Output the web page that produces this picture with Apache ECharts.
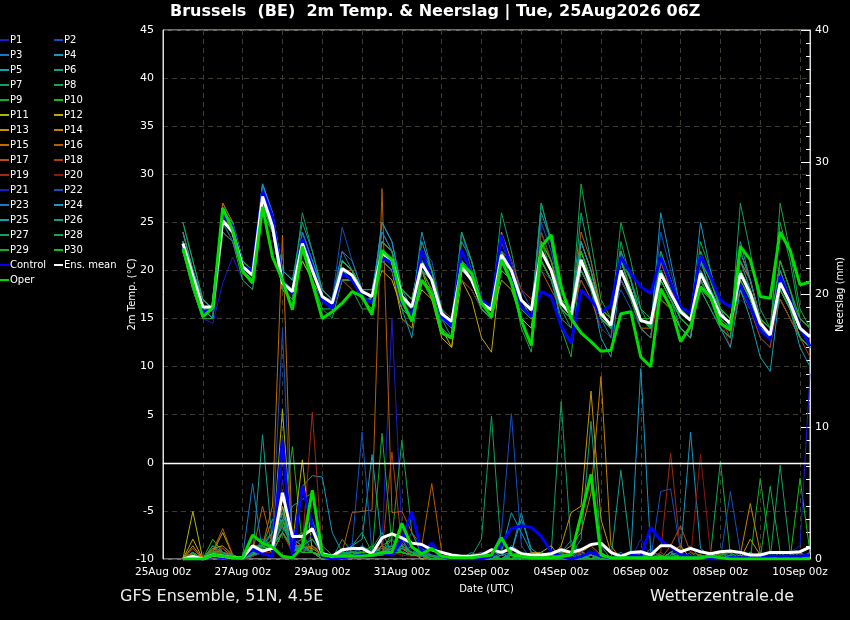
<!DOCTYPE html>
<html><head><meta charset="utf-8">
<script src="https://cdn.jsdelivr.net/npm/echarts/dist/echarts.min.js"></script>
<style>html,body{margin:0;padding:0;background:#000}#c{width:850px;height:620px}</style>
</head><body><div id="c"></div>
<script>
// forecast hours after 25Aug2026 00z
const hours = [12,18,24,30,36,42,48,54,60,66,72,78,84,90,96,102,108,114,120,126,132,138,144,150,156,162,168,174,180,186,192,198,204,210,216,222,228,234,240,246,252,258,264,270,276,282,288,294,300,306,312,318,324,330,336,342,348,354,360,366,372,378,384,390];
const xTickLabels = ['25Aug 00z','27Aug 00z','29Aug 00z','31Aug 00z','02Sep 00z','04Sep 00z','06Sep 00z','08Sep 00z','10Sep 00z'];

const memberNames = ['P1','P2','P3','P4','P5','P6','P7','P8','P9','P10','P11','P12','P13','P14','P15','P16','P17','P18','P19','P20','P21','P22','P23','P24','P25','P26','P27','P28','P29','P30'];
const memberColors = ['#1a1ad0','#1550c0','#1a78c0','#1498c0','#10a0b0','#10a088','#10a060','#12a845','#10b025','#10c010','#b4b400','#c0a800','#c49400','#c48000','#c06c00','#b85c00','#b84c10','#b03c10','#a02814','#901414','#1a1ad0','#1550c0','#1a78c0','#1498c0','#10a0b0','#10a088','#10a060','#12a845','#10b025','#10c010'];

// 2m temperature (°C)
const tMean = [22.8,19.4,16.2,16.2, 25.2,24.0,20.4,19.5, 27.7,24.6,18.7,17.8, 22.8,20.0,17.3,16.6, 20.2,19.5,17.8,17.3, 21.8,21.1,17.3,16.2, 20.7,19.0,15.5,14.7, 20.4,19.0,16.6,15.9, 21.6,20.0,16.9,15.9, 22.0,20.0,16.6,15.4, 21.1,18.5,15.5,14.3, 20.0,17.6,14.8,14.5, 19.7,17.6,15.7,14.8, 19.7,17.6,15.4,14.5, 19.7,17.6,14.5,13.3, 18.7,16.6,14.0,13.1];
const tControl = [22.5,19.0,15.7,15.9, 25.8,24.6,20.4,20.0, 28.2,25.6,19.0,17.6, 23.3,20.4,16.9,16.1, 19.7,19.0,17.3,16.6, 21.4,20.7,16.6,15.4, 22.1,19.0,15.2,14.2, 22.1,19.7,16.9,16.2, 23.7,20.0,16.2,15.2, 17.8,17.3,14.2,12.4, 18.0,16.9,15.6,16.4, 21.4,19.7,18.3,17.6, 21.4,18.7,16.2,15.5, 21.6,19.4,16.9,16.2, 18.5,16.2,13.8,12.8, 19.4,16.9,14.2,12.1];
const tOper = [22.3,18.7,15.2,16.1, 26.5,24.2,19.9,18.7, 26.6,21.4,19.0,15.9, 22.5,18.7,15.0,15.7, 16.6,17.8,17.3,15.4, 22.1,21.1,16.9,14.7, 19.0,17.6,13.5,13.0, 20.7,19.7,16.6,15.2, 21.1,18.7,14.8,12.2, 22.5,23.7,18.3,15.0, 13.5,12.6,11.6,11.7, 15.5,15.7,11.0,10.0, 18.1,16.2,12.6,14.2, 18.3,17.3,14.5,13.8, 22.5,21.1,17.3,17.1, 24.0,22.1,18.5,18.8];

const tP1 = [22,18,15,14.5, 18.7,21.4,19,18, 27,24,18,17, 22,19,16,16, 21,20,18,17, 22,21,17,16, 19,18,14,13, 22,20,17,16, 20,19,16,15, 24,21,17,16, 19,17,14,13, 22,19,16,15, 18,16,14,13, 21,19,16,15, 17,16,13,12, 20,17,14,12];
const tP2 = [23,19,16,16, 25,24,20,20, 28,25,19,18, 24,21,18,17, 19,19,17,17, 21,20,17,16, 23,20,16,15, 19,18,16,15, 22,21,18,16, 20,19,16,15, 23,20,16,15, 18,16,14,13, 21,18,16,15, 19,17,15,14, 22,19,15,14, 17,15,13,12];
const tP3 = [23,20,17,16, 26,24,21,20, 29,25,19,18, 22,20,17,17, 22,20,18,18, 24,22,18,17, 20,18,15,14, 21,20,17,16, 23,20,17,16, 21,19,16,15, 20,18,15,14, 21,18,15,14, 18,17,15,14, 20,18,16,15, 19,17,14,13, 18,16,13,12];
const tP4 = [24,20,16,15, 26,25,21,20, 29,26,20,19, 23,21,18,17, 21,20,18,17, 25,23,18,17, 21,20,15,14, 23,21,17,16, 22,20,16,15, 27,23,17,15, 22,19,15,14, 19,17,15,14, 20,18,16,15, 25,20,16,15, 18,16,14,13, 20,17,14,13];
const tP5 = [22,19,16,16, 24,23,20,19, 27,24,18,17, 23,20,17,16, 21,20,18,18, 22,21,18,17, 22,20,16,15, 20,19,16,15, 20,19,16,15, 23,21,17,16, 21,18,13,11, 20,17,14,13, 21,19,16,15, 18,16,14,13, 20,18,15,14, 19,17,15,14];
const tP6 = [23,19,16,15, 25,24,21,20, 28,26,20,19, 25,22,18,17, 20,19,17,16, 21,20,17,16, 20,18,15,14, 24,21,17,16, 21,20,17,16, 22,20,16,15, 26,21,16,14, 20,17,15,14, 19,17,15,14, 21,18,15,14, 23,19,15,14, 17,15,13,12];
const tP7 = [25,21,17,16, 25,24,20,19, 28,25,19,18, 23,21,18,17, 20,19,17,17, 23,22,18,17, 20,19,16,15, 21,20,17,16, 26,22,17,16, 21,19,16,15, 20,18,15,14, 23,19,16,15, 18,16,14,13, 20,18,16,15, 19,17,14,13, 21,18,14,12];
const tP8 = [22,18,15,15, 26,25,21,20, 27,24,18,17, 21,19,16,15, 19,18,16,16, 22,21,17,16, 22,20,16,15, 19,18,16,15, 22,20,17,16, 22,20,16,15, 29,23,17,15, 21,18,15,14, 22,19,16,15, 18,16,14,13, 20,18,15,14, 25,21,15,14];
const tP9 = [23,19,16,16, 24,23,20,19, 28,25,19,18, 22,20,17,16, 21,20,18,17, 21,20,16,15, 19,17,14,13, 22,20,16,15, 20,19,16,15, 23,20,14,11, 21,19,16,15, 19,17,14,13, 20,18,15,14, 23,20,16,15, 21,19,15,14, 18,16,14,13];
const tP10 = [22,19,16,16, 25,23,19,18, 26,24,19,18, 24,21,18,17, 20,19,17,17, 22,21,17,16, 21,19,15,14, 20,19,17,16, 21,19,16,15, 24,21,17,15, 22,19,16,15, 20,18,15,15, 19,17,15,14, 22,19,16,14, 18,16,14,13, 19,17,15,14];
const tP11 = [23,20,16,16, 25,24,21,20, 27,24,19,18, 21,19,17,16, 19,19,18,17, 20,19,16,15, 18,17,14,12, 21,19,16,15, 19,18,15,14, 22,20,16,15, 20,18,15,14, 21,18,15,14, 17,16,14,13, 19,17,15,14, 20,18,14,13, 18,16,14,13];
const tP12 = [22,19,16,15, 25,24,20,19, 28,25,19,18, 22,20,17,16, 20,19,17,16, 21,20,15,14, 20,17,13,12, 19,17,13,11.5, 21,19,15,14, 21,19,16,15, 23,20,16,14, 19,17,14,13, 21,18,16,15, 20,18,15,14, 22,19,15,14, 19,17,14,13];
const tP13 = [24,20,17,16, 26,25,21,20, 28,25,19,18, 23,20,17,16, 21,20,18,17, 23,22,17,16, 21,19,15,14, 20,19,16,15, 24,21,17,16, 21,19,16,15, 22,19,16,14, 20,18,15,14, 20,18,16,15, 20,18,15,14, 19,17,14,13, 18,16,13,12];
const tP14 = [23,19,16,16, 27,25,20,19, 27,24,18,17, 22,20,17,17, 20,19,17,17, 22,21,18,17, 22,20,16,15, 21,20,17,16, 22,20,17,15, 23,21,17,16, 20,18,15,14, 22,19,15,14, 19,17,15,14, 21,19,16,15, 20,18,15,14, 17,15,13,12];
const tP15 = [22,18,15,15, 24,23,20,19, 28,25,19,18, 24,21,18,17, 21,20,18,17, 21,20,16,15, 19,18,15,14, 22,20,17,16, 21,19,16,15, 22,20,16,15, 21,19,16,15, 19,17,14,14, 20,18,16,15, 19,17,15,14, 21,19,15,13, 20,17,14,13];
const tP16 = [23,19,16,15, 27,25,21,20, 28,25,19,18, 22,20,17,16, 19,19,17,16, 23,22,17,16, 20,18,15,14, 20,19,16,15, 21,20,17,16, 20,18,16,15, 24,21,16,15, 21,18,15,14, 19,17,15,14, 22,19,16,15, 19,17,14,13, 19,17,14,13];
const tP17 = [22,19,16,16, 25,24,20,19, 27,25,19,18, 23,20,17,16, 21,20,18,17, 22,21,17,16, 21,19,15,14, 21,19,16,15, 23,21,17,16, 23,21,17,15, 19,17,14,13, 20,18,15,14, 21,19,16,15, 18,17,15,14, 20,18,15,14, 21,18,15,14];
const tP18 = [23,19,15,15, 24,23,20,19, 28,25,19,18, 22,20,17,16, 20,20,18,17, 22,21,18,17, 21,20,16,15, 20,19,17,16, 22,21,18,17, 21,19,16,15, 22,19,15,14, 19,17,14,13, 21,18,15,14, 19,17,15,13, 18,16,13,12, 18,16,13,11];
const tP19 = [24,20,16,15, 25,24,21,20, 27,24,18,17, 23,20,17,16, 19,18,17,17, 21,20,17,16, 20,18,14,13, 21,20,17,16, 20,19,16,15, 24,21,16,15, 21,18,15,14, 20,18,15,14, 20,18,16,15, 21,18,15,14, 19,17,14,13, 17,15,13,12];
const tP20 = [22,19,16,16, 26,24,20,19, 28,25,19,18, 22,20,17,17, 21,20,18,17, 22,21,17,16, 22,20,16,14, 19,18,16,15, 21,20,17,15, 22,20,17,16, 20,18,15,14, 21,18,14,13, 18,17,15,14, 20,18,15,12, 21,18,15,14, 19,17,14,13];
const tP21 = [23,20,16,15, 25,24,21,20, 29,26,19,18, 24,21,18,17, 20,19,17,16, 21,20,17,16, 21,20,16,15, 22,20,17,16, 23,21,17,16, 20,19,16,15, 21,18,14,13, 20,17,14,13, 22,19,16,15, 20,18,15,14, 19,17,14,13, 20,17,14,12];
const tP22 = [23,19,16,16, 25,23,20,19, 28,25,19,18, 22,20,18,17, 24.5,21,18,17, 21,20,17,16, 22,21,16,15, 24,20,16,15, 22,20,17,16, 25,22,17,16, 22,19,15,14, 19,17,15,14, 24,20,16,15, 22,19,16,15, 20,18,14,13, 19,17,14,13];
const tP23 = [22,19,16,15, 24,23,20,19, 27,24,18,17, 24,21,18,17, 22,21,18,17, 24,22,17,16, 20,19,15,14, 20,19,16,15, 21,19,16,15, 22,20,16,15, 21,18,15,13, 22,19,15,14, 20,18,15,14, 19,17,15,14, 22,19,15,14, 18,16,13,12];
const tP24 = [23,20,17,16, 26,25,21,20, 29,26,20,19, 22,20,17,16, 21,20,18,17, 25,23,18,16, 24,20,14,13, 21,20,17,16, 21,20,17,16, 26,23,18,16, 23,20,15,14, 21,18,15,14, 26,21,16,15, 20,18,16,14, 21,18,14,13, 20,17,14,12];
const tP25 = [24,20,16,15, 26,24,21,20, 28,25,19,18, 23,21,18,17, 20,19,17,16, 22,21,16,13, 20,19,15,14, 22,20,16,15, 20,19,16,15, 21,19,15,14, 21,18,15,14, 20,18,15,14, 19,17,14,13, 21,18,14,12, 18,15,11,9.5, 18,16,12,10];
const tP26 = [23,19,16,16, 25,24,20,19, 28,26,20,19, 22,20,17,16, 21,20,18,17, 22,21,18,17, 21,19,15,14, 21,19,16,15, 21,20,17,16, 22,20,16,15, 20,18,15,14, 21,19,15,14, 19,17,15,14, 20,18,15,14, 20,17,15,14, 19,17,14,13];
const tP27 = [25,21,17,16, 26,25,21,20, 27,25,19,18, 26,22,18,17, 21,20,17,16, 22,21,17,16, 23,20,15,13, 21,19,16,15, 22,20,17,15, 27,23,17,15, 22,19,15,14, 22,19,15,14, 20,18,15,14, 19,17,14,13, 27,22,16,14, 21,18,14,13];
const tP28 = [22,18,15,15, 25,24,21,20, 28,25,19,18, 23,20,17,16, 20,19,17,17, 23,22,18,17, 21,19,15,14, 24,21,17,15, 22,19,14,11.5, 21,19,16,14, 22,19,16,15, 25,21,16,14, 21,19,16,15, 20,18,15,14, 19,17,14,13, 27,22,16,14];
const tP29 = [23,19,16,16, 25,24,20,19, 27,24,18,17, 22,19,16,16, 19,19,17,17, 22,21,17,16, 20,18,15,14, 20,19,16,15, 21,19,16,15, 22,20,16,15, 21,18,15,14, 20,17,14,13, 22,19,16,15, 21,19,16,15, 20,18,15,14, 21,18,15,14];
const tP30 = [22,19,16,16, 26,24,20,19, 28,25,19,18, 23,20,17,16, 21,20,18,17, 21,20,17,16, 22,20,16,14, 22,20,17,16, 20,19,16,15, 23,21,17,16, 22,19,15,14, 21,18,15,14, 19,17,15,14, 22,19,16,15, 19,17,14,13, 18,16,13,12];

// Neerslag (mm)
const rMean = [0,0.2,0,0.3, 0.2,0.1,0.1,1.0, 0.6,0.8,5.0,1.7, 1.7,2.3,0.4,0.2, 0.7,0.8,0.8,0.4, 1.6,1.9,1.6,1.2, 1.1,0.7,0.5,0.3, 0.2,0.2,0.3,0.7, 0.5,0.8,0.4,0.3, 0.3,0.4,0.7,0.5, 0.7,1.1,1.2,0.5, 0.2,0.5,0.55,0.3, 1.0,1.0,0.55,0.8, 0.55,0.4,0.55,0.6, 0.5,0.3,0.3,0.5, 0.5,0.5,0.55,0.9];
const rControl = [0,0,0,0.2, 0.1,0,0.1,0.7, 0.4,0.2,9.0,0.3, 5.5,2.5,0.2,0, 0.1,0.2,0.3,0.4, 0.5,0.3,1.4,3.6, 0.4,1.2,0.2,0, 0,0,0,0.2, 1.2,2.3,2.5,2.4, 1.7,0.55,0.2,0, 0.2,0.5,0.2,0.1, 0.3,0.3,0.2,2.4, 1.4,0.9,0.3,0.2, 0.1,0,0,0.1, 0.1,0.1,0.1,0.2, 0.2,0.2,0.2,0.3];
const rOper = [0,0,0,0.3, 0.2,0.1,0.1,1.8, 1.2,0.9,0.2,0.1, 0.9,5.2,0.3,0.2, 0.2,0.2,0.2,0.3, 0.5,0.5,2.7,0.9, 0.4,0.8,0.2,0.1, 0.1,0.1,0.2,0.3, 1.6,0.3,0.2,0.1, 0.1,0.1,0.2,0.3, 3.3,6.4,0.3,0.1, 0.1,0.1,0.1,0.1, 0.1,0.1,0.1,0.1, 0.1,0.2,0.1,0, 0,0,0,0, 0,0,0,0];

const rP1 = [0,0.3,0,0.5, 0.2,0,0.1,0.4, 1.5,0.3,6,1, 0.5,2,0.3,0, 0.5,1.2,0.3,0.2, 1,18.2,2,0.5, 0.3,0,0,0, 0,0,0.2,0, 0,0.5,0,0, 0,0,0.3,0, 0,0.8,0.2,0, 0,0,1.5,0.3, 0,0.2,0,0, 0,0.5,0,0, 0,0,0,0.3, 0,0,0.2,0.5];
const rP2 = [0,0,0,0.2, 0.5,0.2,0,0.3, 0.8,2,17.3,0.5, 1,0.5,0,0.2, 0.3,0.5,1,0.2, 0.5,1,0.8,2, 0.5,0.2,0,0, 0,0,0.5,0.3, 2,11,1,0, 0,0.3,0,0, 0,0,0.5,0, 0,0.5,0.3,0, 5.1,5.3,0.5,0, 0,0.3,0,0.2, 0,0,0.5,0, 0,0.3,0,0];
const rP3 = [0,0.2,0,0.3, 0.4,0.1,0,0.2, 0.6,1,4,1.2, 1.5,3,0.5,0.2, 0.4,0.6,0.3,1, 0.5,0.8,1.2,0.5, 0.8,0.3,0.2,0, 0,0.2,0,0, 0.3,1,0.5,0, 0,0,0.5,1.4, 0.3,0,0,0, 0.2,0,0,0.8, 0,0,0.4,1, 0,0.5,0,0, 0.3,0,0,0, 0,0.5,0,0.3];
const rP4 = [0,0.2,0,0.3, 0.1,0,0,0.2, 0.5,1,3,1, 5.5,6.3,6.2,2, 0.5,0.3,1,0.5, 0.8,1,0.5,0.3, 0.5,0,0.2,0, 0,0,0,0.3, 0.5,3.5,2,0.5, 0,0,0.3,0, 0,0.5,0,0, 0,0.3,14.4,0.5, 0,0.3,0.5,9.6, 0.8,0.2,0,0, 0,0.5,0,0, 0.5,0,0,0];
const rP5 = [0,0.5,0,0.4, 0.3,0,0.1,0.3, 1,0.5,3.5,1.5, 1,1.5,0.5,0.3, 0.2,1,1.5,7.9, 1,0.5,1.5,0.3, 0.5,0.2,0,0, 0,0.3,0,0, 0,0.5,3,0.8, 0.2,0,0,0.5, 0,0,0.3,0, 0.2,0,0.5,0, 0,0,0.3,0, 0.3,0,0.5,0.2, 0,0.5,0,0, 0,0.3,0,0.5];
const rP6 = [0,0.3,0,0.6, 0.2,0,0,0.2, 9.4,1,2,0.8, 0.5,1,0.3,0, 0.3,0.5,0.5,0.2, 0.5,1.5,0.5,1, 0.3,0,0,0, 0,0.2,0,0, 0.3,0.5,0,0, 0,0.5,0,0.3, 1.5,10.4,1,0, 6.7,0.5,0.3,0, 0,0.5,0,0, 0,0.3,0,0, 0,0,0.3,0, 0.2,0,0,0];
const rP7 = [0,0.2,0,0.8, 0.5,0.3,0,0.3, 1,3,2.5,1, 0.5,0.5,0.2,0, 1.5,0.5,0.3,0.8, 2,0.5,1,0.5, 0.5,0.3,0,0, 0,0.2,1.5,10.8, 0.5,0,0.5,0, 0.3,0.5,11.9,1, 0.5,0.3,0,0, 0.3,0,0.5,0, 0,0.5,0.3,0, 0.3,0,0,0.2, 0,0.3,0,0.5, 0,0,0.3,0];
const rP8 = [0,0.5,0,1, 0.3,0.2,0.1,0.5, 1.2,2,3,0.5, 1,0.5,0.3,0.2, 0.5,1,2,0.5, 1,1.5,9,2, 0.3,0,0,0, 0,0,0.3,0, 0,0.3,0.5,0, 0,0,0.3,0.5, 0.3,0,0.3,0, 0,0.5,0,0, 0.3,0,0,0.5, 0,0.3,7.4,0.3, 0,0,0.5,0, 0.3,0,0,0.3];
const rP9 = [0,0.3,0,0.5, 0.5,0,0.1,0.3, 0.8,1,2.5,8.5, 1,0.5,0.3,0, 0.3,0.5,0.5,0.2, 9.5,1,0.5,0.3, 0.2,0,0,0, 0,0.3,0,0, 0.5,0,0,0.3, 0,0.5,0,0, 0,0,0.5,0, 0,0.3,0,0.5, 0.3,0,0,0, 0,0.2,0,0.3, 0.5,0,6.1,0.5, 0,0.3,0,0];
const rP10 = [0,0.4,0,1.5, 0.5,0.2,0,0.2, 1,0.5,3,1.5, 2,0.5,0.2,0, 0.2,0.3,0.5,1, 0.5,2,1,0.5, 0.3,0.2,0,0, 0,0,0.2,0.3, 0,0.5,0,0, 0.5,0,0,0.3, 0,0.3,0,0, 0.2,0,0.3,0, 0,0.5,0,0, 0.2,0,0,0.5, 0,0.3,0,0, 0.5,0,6.1,0.5];
const rP11 = [0,3.6,0,0.8, 1,0.3,0,0.5, 0.5,1,11.3,1, 7.5,0.5,0.2,0, 0.3,0.5,0.3,0.2, 0.5,1,0.5,0.3, 0.2,0,0,0, 0,0.3,0,0, 0,0,0.5,0, 0,0.3,0,0, 0.5,0,0,0, 0,0.3,0,0, 0.2,0,0,0.3, 0,0,0.5,0, 0,0.3,0,0, 0,0,0.3,0];
const rP12 = [0,1.5,0,0.5, 2,0.3,0,0.3, 0.5,0.8,4,1, 1,0.5,0,0, 0.5,0.3,0.5,0.2, 0.3,0.5,0.8,0.5, 0,0,0,0.2, 0,0,0.3,0, 0,0.5,0,0.3, 0.5,1,0,0, 0.5,0.3,0,0, 0,0,0.3,0, 0,0.3,0,0, 0.3,0,0,0, 0,0,0.3,0, 0.3,0,0,0];
const rP13 = [0,1,0,0.3, 0.5,0,0.2,0.3, 0.5,1,2,0.5, 1,0.8,0.3,0, 0.3,0.5,0.5,0.3, 0.5,0.8,1,0.5, 0.3,0,0,0, 0,0,0,0.3, 0,0.3,0,0.5, 0.5,0,1,3.5, 4,12.7,3,0.5, 0,0.3,0,0, 0,0.5,1,0, 0,0.3,0,0, 0,1.5,0.3,0, 0,0,0.5,0];
const rP14 = [0,0.5,0,0.3, 0.8,0.2,0,0.3, 1,0.5,3,1, 0.8,1,0.3,0, 0.3,0.5,0.3,0.2, 1,0.5,0.8,0.3, 0.2,0,0,0, 0,0,0.3,0, 0,0,0.5,0, 0,0.3,0.5,1, 2,5,13.8,1, 0,0.5,0.3,0, 0,0.3,0,0, 0.3,0,0,0, 0.3,4.2,0.5,0, 0,0.3,0,0];
const rP15 = [0,0.5,0,0.8, 0.3,0,0.2,0.5, 1,4,24.5,1, 0.5,0.5,0.3,0, 0.3,0.5,0.3,0.2, 0.5,1,0.5,0.3, 0.3,0,0,0, 0,0.3,0,0, 0,0,0.3,0, 0.3,0,0.5,0.5, 0.5,1,0.3,0, 0,0.3,0,0.5, 0,0.5,0,0, 0,0,0.3,0, 0,0.3,0,0, 0,0,0.3,0.3];
const rP16 = [0,0.8,0,0.6, 2.3,0.3,0,0.5, 4,1,2,0.8, 1,0.5,0.3,0, 0.5,3.5,3.6,3.7, 28,3.5,3.6,2, 1,5.7,0.5,0, 0,0.3,0,0, 0,0.3,0,0, 0,0.5,0.3,0, 0.5,0,0,0, 0,0.3,0,0, 0.3,0,0,0, 0,0.5,0.3,0, 0,0,0,0.3, 0,0.3,0,0];
const rP17 = [0,0.5,0,0.3, 1,0.3,0,0.2, 0.5,0.8,3,1.5, 0.5,1,0.5,0, 0.3,0.3,0.5,0.5, 1,0.5,0.5,0.3, 0.5,0.3,0,0, 0,0.2,0,0.3, 0,0.3,0,0, 0.3,0,0.3,0, 0,0.5,0,0, 0,0,0.5,0.3, 0,1,2.5,0.5, 0.3,0,0.5,0, 0,0.3,0,0, 0,0.5,0,0];
const rP18 = [0,0.3,0,0.5, 0.5,0,0.1,0.3, 0.5,1,2,1, 1.5,0.5,0.3,0, 0.5,0.3,0.3,0.2, 0.5,8.1,1,0.3, 0.3,0,0,0, 0,0.3,0.5,0, 0,0,0.5,0, 0,0.3,0,0, 0.3,0,0,0, 0,0,0.3,0, 0.5,0,0.3,0, 0,0.5,0,0, 0.3,0,0,0, 0,0.3,0.5,0];
const rP19 = [0,0.3,0,0.5, 0.8,0,0,0.3, 0.5,1,2.5,1, 1,11.1,0.5,0, 0.3,0.5,0.3,0.2, 0.5,0.3,0.5,0.3, 0.3,0,0,0, 0,0,0.3,0, 0,0.5,0,0, 0,0.3,0,0, 0,0,0.3,0, 0.3,0,0,0, 0.5,8,0.5,0, 0,0.3,0,0, 0,0,0.3,0, 0,0,0,0.5];
const rP20 = [0,0.3,0,0.3, 0.5,0,0,0.2, 0.5,0.5,2,0.5, 0.8,0.5,0.3,0, 0.3,0.3,0.5,0.3, 0.5,0.5,0.3,0.2, 0.3,0,0,0, 0,0,0.3,0.5, 0,0.3,0,0, 0,0,0.3,0, 0.3,0,0,0, 0,0.3,0,0, 0,0,0.5,0, 7.9,0.5,0,0, 0,0.3,0,0, 0,0,0.3,0];
const rP21 = [0,0.2,0,0.3, 0.3,0,0,0.5, 1,0.5,8,1, 0.5,2,0.5,0, 0.3,0.5,0.3,0.5, 0.5,1,1.5,0.8, 0.3,0,0,0, 0,0,0.3,0, 0,0.5,0,0, 0,0.3,0,0, 0.5,0,0,0, 0,0,0.3,0, 0.3,0,0.5,0, 0,0.3,0,0.5, 0,0.3,0,0.5, 0,0.5,1,14];
const rP22 = [0,0.2,0,0.2, 0.3,0,0,0.3, 0.5,1,3,0.8, 0.5,0.5,0.3,0, 0.5,1,9.6,0.5, 0.3,0.5,0.5,0.3, 0.2,0,0,0, 0,0,0.5,0, 0,0,0.3,0, 0,0.5,0,0, 0,0.3,0,0, 0.3,0,0,0.5, 0,0.3,0,0, 0,0.5,0,5.1, 0.5,0,0,0, 0,0.3,0,0];
const rP23 = [0,0.3,0,0.4, 0.3,0,0.2,5.7, 0.5,1,2.5,1, 0.8,0.5,0.3,0, 0.3,0.5,0.3,0.2, 0.3,0.8,1,0.5, 0.5,0.3,0,0, 0,0.3,0,0, 0.5,0,0,0, 0,0,0.5,0, 0,0.5,0,0, 0,0,0.3,0, 0,0.5,0,0, 0.3,0,0,0, 0,0,0.5,0, 0,0.3,0,0];
const rP24 = [0,0.2,0,0.3, 0.2,0,0,0.3, 0.5,1,2,4, 4.5,5,1,0.3, 0.5,0.5,0.3,0.3, 0.5,0.8,0.5,0.3, 0.3,0,0,0, 0,0.3,0,0, 0,0.5,3.5,0.5, 0,0,0,0.3, 0,0,0.5,0, 0,0.3,0,0, 0,0.5,0,0, 0,0.3,0,0, 0,0.5,0,0, 0.3,0,0,0];
const rP25 = [0,0.3,0,0.5, 0.3,0,0,0.5, 1,2,3.5,1, 1,0.5,0.3,0, 0.5,1,0.5,0.3, 0.5,0.5,0.5,0.3, 0.3,0,0.3,0, 0,0,0,0, 0.3,0,0,0, 0,0.3,0,0, 0,0.3,0,0, 0.5,0,0,0, 0,0,0.3,0, 0,0,0.5,0, 0.3,0,0,0, 0,0,0.3,0];
const rP26 = [0,0.5,0,1, 0.5,0.3,0,0.3, 0.8,1.5,3,0.5, 1,0.5,0.3,0.2, 0.3,0.5,0.3,0.3, 0.5,1,0.5,0.3, 0.3,0,0,0, 0,0.5,0,0, 0,0.3,0.5,0, 0,0,0.5,0, 0.3,0,0,0, 0.3,0,0.5,0, 0,0,0,0.3, 0,0.3,0,0, 0.5,0,0,0, 0,0.3,0,0];
const rP27 = [0,0.3,0,0.5, 0.3,0,0,0.8, 1,0.5,2,1, 0.5,0.5,0.3,0, 0.5,0.3,0.5,0.3, 0.3,0.5,0.8,0.5, 0.3,0,0,0, 0,0,0.3,0, 0,0.3,0,0, 0.5,0,0,0, 0,0.3,0,0, 0,0,0.3,0, 0.3,0,0,0, 0,0.5,0,0, 0,0,0.3,0, 7.1,0.5,0,0.3];
const rP28 = [0,0.3,0,0.6, 0.5,0,0.1,0.3, 1.5,1,2.5,1.5, 1,1.5,0.3,0, 0.5,0.3,0.3,0.5, 0.3,0.5,1,0.5, 0.3,0,0,0, 0,0,0,0.3, 0,0,0.5,0, 0,0.3,0,0, 0,0.5,0,0, 0.3,0,0,0, 0,0,0.5,0, 0,0.3,0,0, 0,0.5,0,5.5, 0.5,0,0,0];
const rP29 = [0,0.3,0,0.5, 0.3,0,0,0.5, 0.8,1.5,3,1, 1,0.5,0,0, 0.3,0.5,0.5,0.3, 0.5,0.8,0.5,0.3, 0.3,0,0,0, 0,0.3,0,0, 0,0,0.3,0, 0.3,0,0,0, 0,0,0.3,0, 0,0.5,0,0, 0.3,0,0,0, 0,0,0.3,0.5, 0,0.3,0,0, 0,0,0.5,0];
const rP30 = [0,0.3,0,0.3, 0.3,0,0,1, 1,0.5,2,0.8, 0.5,0.5,0.3,0, 0.3,0.3,0.5,0.3, 0.5,0.5,0.5,0.3, 0.3,0,0,0, 0,0,0.3,0, 0,0,0,0.3, 0,0.3,0,0, 0.3,0,0,0, 0,0.3,0,0, 0,0,0.3,0, 0.3,0,0,0, 0,0,0.3,0, 0,0.3,0,0.5];

const tempMembers = [tP1,tP2,tP3,tP4,tP5,tP6,tP7,tP8,tP9,tP10,tP11,tP12,tP13,tP14,tP15,tP16,tP17,tP18,tP19,tP20,tP21,tP22,tP23,tP24,tP25,tP26,tP27,tP28,tP29,tP30];
const rainMembers = [rP1,rP2,rP3,rP4,rP5,rP6,rP7,rP8,rP9,rP10,rP11,rP12,rP13,rP14,rP15,rP16,rP17,rP18,rP19,rP20,rP21,rP22,rP23,rP24,rP25,rP26,rP27,rP28,rP29,rP30];

const FONT = 'DejaVu Sans';
const pair = arr => arr.map((v, i) => [hours[i], v]);
function lineSeries(name, data, axis, color, width, z) {
  return {
    name: name, type: 'line', yAxisIndex: axis, data: pair(data),
    symbol: 'none', showSymbol: false, z: z,
    lineStyle: { color: color, width: width },
    itemStyle: { color: color },
    emphasis: { disabled: true }
  };
}
const series = [];
for (let k = 0; k < memberNames.length; k++) {
  series.push(lineSeries(memberNames[k], tempMembers[k], 0, memberColors[k], 1, 2));
  series.push(lineSeries(memberNames[k], rainMembers[k], 1, memberColors[k], 1, 2));
}
series.push(lineSeries('Control', tControl, 0, '#0000ff', 3, 3));
series.push(lineSeries('Control', rControl, 1, '#0000ff', 3, 3));
const meanT = lineSeries('Ens. mean', tMean, 0, '#ffffff', 3, 4);
meanT.markLine = {
  silent: true, symbol: 'none', label: { show: false },
  lineStyle: { color: '#ffffff', width: 1.3, type: 'solid' },
  data: [{ yAxis: 0 }]
};
series.push(meanT);
series.push(lineSeries('Ens. mean', rMean, 1, '#ffffff', 3, 4));
series.push(lineSeries('Oper', tOper, 0, '#00dd00', 3, 5));
series.push(lineSeries('Oper', rOper, 1, '#00dd00', 3, 5));

const legendCol1 = [], legendCol2 = [];
memberNames.forEach((n, i) => (i % 2 === 0 ? legendCol1 : legendCol2).push(n));
legendCol1.push('Control', 'Oper');
legendCol2.push('Ens. mean');
const legendBase = {
  orient: 'vertical', top: 32.5, padding: 0, itemGap: 0, itemWidth: 9, itemHeight: 2,
  icon: 'rect', selectedMode: false,
  textStyle: { color: '#ffffff', fontSize: 10, fontFamily: FONT, lineHeight: 15, padding: [0, 0, 0, -4] }
};

const chart = echarts.init(document.getElementById('c'));
chart.setOption({
  backgroundColor: '#000000',
  animation: false,
  textStyle: { fontFamily: FONT },
  title: [
    { text: 'Brussels  (BE)  2m Temp. & Neerslag | Tue, 25Aug2026 06Z', left: 170, top: 4, padding: 0,
      textStyle: { color: '#ffffff', fontSize: 16, fontWeight: 'bold', fontFamily: FONT } },
    { text: 'GFS Ensemble, 51N, 4.5E', left: 120, top: 589, padding: 0,
      textStyle: { color: '#eeeeee', fontSize: 16, fontWeight: 'normal', fontFamily: FONT } },
    { text: 'Wetterzentrale.de', right: 56, top: 589, padding: 0,
      textStyle: { color: '#eeeeee', fontSize: 16, fontWeight: 'normal', fontFamily: FONT } }
  ],
  legend: [
    Object.assign({}, legendBase, { left: 0, data: legendCol1 }),
    Object.assign({}, legendBase, { left: 54, data: legendCol2 })
  ],
  grid: { left: 163, right: 40, top: 30, bottom: 61, containLabel: false, outerBoundsMode: 'none',
          show: true, borderColor: '#dddddd', borderWidth: 1, backgroundColor: '#000000' },
  xAxis: {
    type: 'value', min: 0, max: 390, interval: 24,
    name: 'Date (UTC)', nameLocation: 'middle', nameGap: 25, nameMoveOverlap: false,
    nameTextStyle: { color: '#ffffff', fontSize: 10, fontFamily: FONT },
    axisLine: { show: true, lineStyle: { color: '#dddddd' } },
    axisTick: { show: false },
    axisLabel: {
      color: '#ffffff', fontSize: 10.5, fontFamily: FONT, margin: 8,
      formatter: v => (v % 48 === 0 && xTickLabels[v / 48] !== undefined) ? xTickLabels[v / 48] : ''
    },
    splitLine: { show: true, lineStyle: { color: '#3c3c32', type: [5, 4], width: 1 } }
  },
  yAxis: [
    {
      type: 'value', min: -10, max: 45, interval: 5, position: 'left',
      name: '2m Temp. (°C)', nameLocation: 'middle', nameGap: 26, nameRotate: 90, nameMoveOverlap: false,
      nameTextStyle: { color: '#ffffff', fontSize: 10, fontFamily: FONT },
      axisLine: { show: true, lineStyle: { color: '#dddddd' } },
      axisTick: { show: false },
      axisLabel: { color: '#ffffff', fontSize: 11, fontFamily: FONT, margin: 9 },
      splitLine: { show: true, lineStyle: { color: '#3c3c32', type: [5, 4], width: 1 } }
    },
    {
      type: 'value', min: 0, max: 40, interval: 10, position: 'right',
      name: 'Neerslag (mm)', nameLocation: 'middle', nameGap: 25, nameRotate: 90, nameMoveOverlap: false,
      nameTextStyle: { color: '#ffffff', fontSize: 10, fontFamily: FONT },
      axisLine: { show: true, lineStyle: { color: '#dddddd' } },
      axisTick: { show: true, inside: true, length: 9, lineStyle: { color: '#ffffff' } },
      minorTick: { show: true, splitNumber: 10, length: 4, lineStyle: { color: '#ffffff' } },
      axisLabel: { color: '#ffffff', fontSize: 11, fontFamily: FONT, margin: 5 },
      splitLine: { show: false },
      minorSplitLine: { show: false }
    }
  ],
  series: series
});
</script>
</body></html>
